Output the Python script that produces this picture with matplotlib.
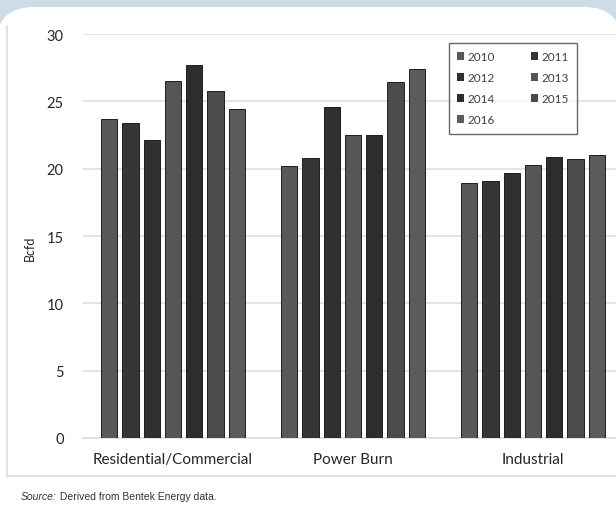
import matplotlib
matplotlib.use("Agg")
import matplotlib.pyplot as plt
from matplotlib.patches import FancyBboxPatch, Patch
from matplotlib.lines import Line2D
from matplotlib.transforms import IdentityTransform
import numpy as np

categories = ["Residential/Commercial", "Power Burn", "Industrial"]
years = ["2010", "2011", "2012", "2013", "2014", "2015", "2016"]
residential = [23.7, 23.4, 22.1, 26.5, 27.7, 25.8, 24.4]
power_burn = [20.2, 20.8, 24.6, 22.5, 22.5, 26.4, 27.4]
industrial = [18.9, 19.1, 19.7, 20.3, 20.9, 20.7, 21.0]
yticks = [0, 5, 10, 15, 20, 25, 30]
source_note = " Derived from Bentek Energy data."

year_colors = ["#595959", "#363636", "#303030", "#565656", "#2d2d2d", "#4b4b4b", "#5b5b5b"]

W, H = 616, 510
fig = plt.figure(figsize=(W / 100, H / 100), dpi=100)
fig.patch.set_facecolor("#cddde7")

def fx(px):
    return px / W

def fy(py):
    return 1 - py / H

# white rounded panel, laid out in pixels
panel = FancyBboxPatch((-4, -40), 626, H - 8 + 40,
                       boxstyle="round,pad=0,rounding_size=38",
                       transform=IdentityTransform(), facecolor="white",
                       edgecolor="none", zorder=-5)
fig.patches.append(panel)

# light chart frame
fig.add_artist(Line2D([fx(7), fx(7)], [fy(27), fy(477)], color="#dcdcdc", lw=1.2,
                      transform=fig.transFigure))
fig.add_artist(Line2D([fx(7), fx(620)], [fy(477), fy(477)], color="#dcdcdc", lw=1.2,
                      transform=fig.transFigure))

left_px, right_px = 83, 623
bottom_px, top_px = 439, 35
ax = fig.add_axes([fx(left_px), fy(bottom_px), fx(right_px - left_px),
                   (bottom_px - top_px) / H])
ax.set_facecolor("none")
ax.set_zorder(2)

series = np.array([residential, power_burn, industrial])
x = np.arange(len(categories))
step = 0.1183
width = 0.0906
for i, yr in enumerate(years):
    ax.bar(x + (i - 3) * step, series[:, i], width=width, color=year_colors[i],
           edgecolor="#1e1e1e", linewidth=0.7, label=yr, zorder=3)

ax.set_xlim(-0.5, 2.5)
ax.set_ylim(0, 30)
ax.set_yticks(yticks)
ax.set_yticklabels([str(t) for t in yticks])
ax.set_xticks(x)
ax.set_xticklabels(categories)
ax.grid(axis="y", color="#dcdcdc", lw=1.1, zorder=0)
ax.set_axisbelow(True)
for s in ["top", "right", "left"]:
    ax.spines[s].set_visible(False)
ax.spines["bottom"].set_color("#dcdcdc")
ax.spines["bottom"].set_linewidth(1.1)
ax.tick_params(axis="both", length=0, colors="#262626")
ax.tick_params(axis="y", pad=14, labelsize=10.5)
ax.tick_params(axis="x", pad=10, labelsize=11)
for lab in ax.get_xticklabels() + ax.get_yticklabels():
    lab.set_family("Lato")

fig.text(fx(30), fy(248), "Bcfd", rotation=90, ha="center", va="center",
         fontsize=9, color="#262626", family="Lato")

handles = [Patch(facecolor=year_colors[i], edgecolor="none") for i in range(7)]
order = [0, 2, 4, 6, 1, 3, 5]
leg = fig.legend([handles[i] for i in order], [years[i] for i in order],
                 ncol=2, loc="upper left",
                 bbox_to_anchor=(fx(449), fy(44)), bbox_transform=fig.transFigure,
                 borderaxespad=0, frameon=True, fancybox=False,
                 handlelength=0.6, handleheight=0.6, handletextpad=0.3,
                 columnspacing=3.0, labelspacing=0.85,
                 borderpad=0.7, prop={"family": "Lato", "size": 8.5})
leg.set_zorder(5)
leg.get_frame().set_edgecolor("#444444")
leg.get_frame().set_linewidth(1.0)
for t in leg.get_texts():
    t.set_color("#404040")

src = fig.text(fx(21), fy(497), "Source:", style="italic", fontsize=7.5,
               family="Liberation Sans", color="#333333", va="center", ha="left")
ax.annotate(source_note, xy=(1, 0.5), xycoords=src, va="center", ha="left",
            fontsize=7.5, family="Liberation Sans", color="#333333",
            annotation_clip=False)

fig.savefig("out.png", dpi=100, facecolor=fig.get_facecolor())
